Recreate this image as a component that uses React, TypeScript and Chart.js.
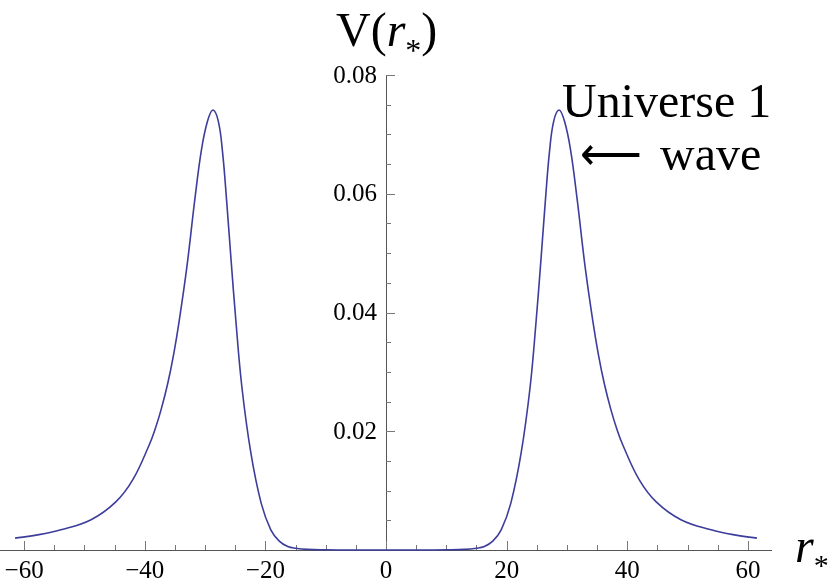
import { useEffect, useRef } from 'react';
import { Chart, registerables } from 'chart.js';

Chart.register(...registerables);

// r_* values (x) and potential V(r_*) (y)
const R_STAR = [
  -61.5, -58.0, -53.9, -48.9, -44.8, -42.0, -39.3, -38.3, -37.3, -36.2, -35.2, -34.3,
  -33.0, -31.7, -30.6, -29.6, -28.7, -27.8, -27.1, -26.4, -25.7, -24.9, -23.9, -22.4,
  -20.7, -19.1, -17.7, -16.3, -15.0, -13.0, -10.0, -6.0, 0.0,
  6.0, 10.0, 13.0, 15.0, 16.3, 17.7, 19.1, 20.7, 22.4, 23.9, 24.9, 25.7, 26.4, 27.1,
  27.8, 28.7, 29.6, 30.6, 31.7, 33.0, 34.3, 35.2, 36.2, 37.3, 38.3, 39.3, 42.0, 44.8,
  48.9, 53.9, 58.0, 61.5,
];
const V_VALUES = [
  0.0020, 0.0025, 0.0034, 0.0051, 0.0081, 0.0118, 0.0176, 0.0203, 0.0236, 0.0280, 0.0330, 0.0385,
  0.0478, 0.0590, 0.0674, 0.0722, 0.0741, 0.0722, 0.0670, 0.0585, 0.0490, 0.0387, 0.0275, 0.0163,
  0.0079, 0.0034, 0.0015, 0.0006, 0.0003, 0.0001, 0.00003, 0.0, 0.0,
  0.0, 0.00003, 0.0001, 0.0003, 0.0006, 0.0015, 0.0034, 0.0079, 0.0163, 0.0275, 0.0387, 0.0490, 0.0585, 0.0670,
  0.0722, 0.0741, 0.0722, 0.0674, 0.0590, 0.0478, 0.0385, 0.0330, 0.0280, 0.0236, 0.0203, 0.0176, 0.0118, 0.0081,
  0.0051, 0.0034, 0.0025, 0.0020,
];

const X_MAJOR_TICKS = [-60, -40, -20, 0, 20, 40, 60];
const X_TICK_LABELS = ['\u221260', '\u221240', '\u221220', '0', '20', '40', '60'];
const X_MINOR_TICKS = [-55, -50, -45, -35, -30, -25, -15, -10, -5, 5, 10, 15, 25, 30, 35, 45, 50, 55];
const Y_MAJOR_TICKS = [0.02, 0.04, 0.06, 0.08];
const Y_TICK_LABELS = ['0.02', '0.04', '0.06', '0.08'];
const Y_MINOR_TICKS = [0.005, 0.01, 0.015, 0.025, 0.03, 0.035, 0.045, 0.05, 0.055, 0.065, 0.07, 0.075];

const ANNOTATION_LINE_1 = 'Universe 1';
const ANNOTATION_ARROW = '\u27F5';
const ANNOTATION_LINE_2 = 'wave';

const SERIF = '"Liberation Serif", "Times New Roman", serif';

const axesPlugin = {
  id: 'mathematicaAxes',
  beforeDatasetsDraw(chart: any) {
    const ctx = chart.ctx as CanvasRenderingContext2D;
    const xs = chart.scales.x;
    const ys = chart.scales.y;
    const ca = chart.chartArea;
    const x0 = xs.getPixelForValue(0);
    const y0 = ys.getPixelForValue(0);
    ctx.save();
    ctx.strokeStyle = '#555';
    ctx.lineWidth = 1;
    ctx.beginPath();
    ctx.moveTo(ca.left, y0 + 0.5);
    ctx.lineTo(ca.right, y0 + 0.5);
    ctx.stroke();
    ctx.beginPath();
    ctx.moveTo(Math.round(x0) + 0.5, y0);
    ctx.lineTo(Math.round(x0) + 0.5, ys.getPixelForValue(0.08));
    ctx.stroke();
    ctx.strokeStyle = '#777';
    X_MAJOR_TICKS.forEach((v) => {
      const px = Math.round(xs.getPixelForValue(v)) + 0.5;
      ctx.beginPath();
      ctx.moveTo(px, y0);
      ctx.lineTo(px, y0 - 9);
      ctx.stroke();
    });
    X_MINOR_TICKS.forEach((v) => {
      const px = Math.round(xs.getPixelForValue(v)) + 0.5;
      ctx.beginPath();
      ctx.moveTo(px, y0);
      ctx.lineTo(px, y0 - 5);
      ctx.stroke();
    });
    Y_MAJOR_TICKS.forEach((v) => {
      const py = Math.round(ys.getPixelForValue(v)) + 0.5;
      ctx.beginPath();
      ctx.moveTo(x0, py);
      ctx.lineTo(x0 + 9, py);
      ctx.stroke();
    });
    Y_MINOR_TICKS.forEach((v) => {
      const py = Math.round(ys.getPixelForValue(v)) + 0.5;
      ctx.beginPath();
      ctx.moveTo(x0, py);
      ctx.lineTo(x0 + 5, py);
      ctx.stroke();
    });
    ctx.fillStyle = '#000';
    ctx.font = `25px ${SERIF}`;
    ctx.textAlign = 'center';
    ctx.textBaseline = 'alphabetic';
    X_MAJOR_TICKS.forEach((v, i) => {
      ctx.fillText(X_TICK_LABELS[i], xs.getPixelForValue(v), y0 + 28);
    });
    ctx.textAlign = 'right';
    ctx.textBaseline = 'middle';
    Y_MAJOR_TICKS.forEach((v, i) => {
      ctx.fillText(Y_TICK_LABELS[i], x0 - 9, ys.getPixelForValue(v) + 1);
    });
    ctx.restore();
  },
  afterDraw(chart: any) {
    const ctx = chart.ctx as CanvasRenderingContext2D;
    const xs = chart.scales.x;
    const ys = chart.scales.y;
    const x0 = xs.getPixelForValue(0);
    const y0 = ys.getPixelForValue(0);
    ctx.save();
    ctx.fillStyle = '#000';
    ctx.textAlign = 'left';
    ctx.textBaseline = 'alphabetic';
    let x = x0 - 50;
    const by = 46;
    ctx.font = `48px ${SERIF}`;
    ctx.fillText('V(', x, by);
    x += ctx.measureText('V(').width;
    ctx.font = `italic 48px ${SERIF}`;
    ctx.fillText('r', x, by);
    x += ctx.measureText('r').width;
    ctx.font = `32px ${SERIF}`;
    ctx.fillText('*', x, by + 15);
    x += ctx.measureText('*').width;
    ctx.font = `48px ${SERIF}`;
    ctx.fillText(')', x, by);
    let rx = 795;
    const ry = y0 + 12;
    ctx.font = `italic 48px ${SERIF}`;
    ctx.fillText('r', rx, ry);
    rx += ctx.measureText('r').width;
    ctx.font = `30px ${SERIF}`;
    ctx.fillText('*', rx, ry + 13);
    ctx.font = `48px ${SERIF}`;
    ctx.fillText(ANNOTATION_LINE_1, 562, 117);
    ctx.fillText(ANNOTATION_LINE_2, 660, 170);
    const aw = ctx.measureText(ANNOTATION_ARROW).width;
    ctx.save();
    ctx.translate(580, 170);
    ctx.scale(62 / Math.max(aw, 1), 1);
    ctx.fillText(ANNOTATION_ARROW, 0, 0);
    ctx.restore();
    ctx.restore();
  },
};

export default function App() {
  const canvasRef = useRef<HTMLCanvasElement | null>(null);
  useEffect(() => {
    if (!canvasRef.current) return;
    const chart = new Chart(canvasRef.current, {
      type: 'line',
      data: {
        datasets: [
          {
            data: R_STAR.map((r, i) => ({ x: r, y: V_VALUES[i] })),
            borderColor: '#3d3d9c',
            borderWidth: 1.6,
            pointRadius: 0,
            fill: false,
            tension: 0.4,
            clip: false as any,
          },
        ],
      },
      options: {
        animation: false,
        responsive: false,
        maintainAspectRatio: false,
        events: [],
        layout: { padding: { left: 0, right: 58, top: 75, bottom: 38 } },
        plugins: { legend: { display: false }, tooltip: { enabled: false } },
        scales: {
          x: { type: 'linear', min: -64, max: 64, display: false },
          y: { type: 'linear', min: 0, max: 0.08, display: false },
        },
      },
      plugins: [axesPlugin],
    });
    let alive = true;
    const redraw = () => {
      if (alive) chart.draw();
    };
    const timers = [0, 60, 200, 500].map((t) => window.setTimeout(redraw, t));
    if ((document as any).fonts) {
      (document as any).fonts.load(`48px ${SERIF}`).then(redraw).catch(() => {});
      (document as any).fonts.ready.then(redraw).catch(() => {});
    }
    return () => {
      alive = false;
      timers.forEach((t) => window.clearTimeout(t));
      chart.destroy();
    };
  }, []);
  return (
    <div style={{ position: 'absolute', left: 0, top: 0, width: 830, height: 588, background: '#fff' }}>
      <canvas ref={canvasRef} width={830} height={588} style={{ width: 830, height: 588 }} />
    </div>
  );
}
